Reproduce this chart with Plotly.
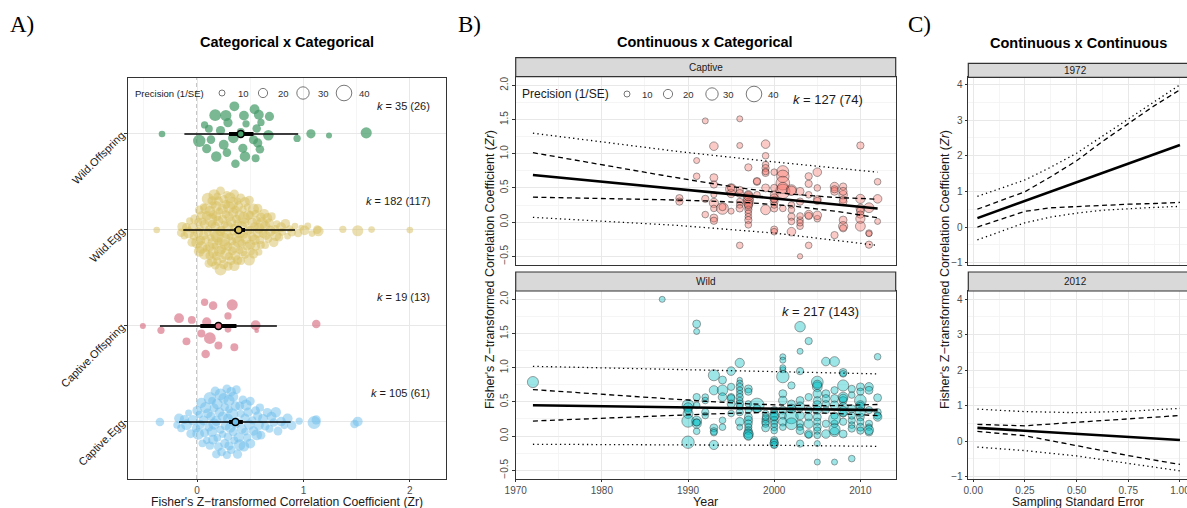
import numpy as np
import plotly.graph_objects as go

W, H = 1187, 508
FONT = "Liberation Sans, Arial, Helvetica, sans-serif"
SERIF = "Liberation Serif, Times New Roman, serif"

# ---------------- Panel A data ----------------
cat_labels = ["Captive.Egg", "Captive.Offspring", "Wild.Egg", "Wild.Offspring"]
k_labels_A = ["<i>k</i> = 105 (61)", "<i>k</i> = 19 (13)", "<i>k</i> = 182 (117)", "<i>k</i> = 35 (26)"]

wild_off_zr = [-0.33, 0.02, 0.07, 0.09, 0.11, 0.17, 0.18, 0.22, 0.25, 0.27, 0.28, 0.29, 0.34, 0.35, 0.36,
               0.41, 0.43, 0.44, 0.45, 0.46, 0.53, 0.54, 0.55, 0.56, 0.57, 0.58, 0.59, 0.60, 0.67, 0.68,
               0.94, 1.07, 1.24, 1.59, 0.13]
wild_off_prec = [12, 30, 14, 20, 16, 28, 24, 20, 22, 26, 18, 20, 24, 22, 18, 16, 20, 22, 24, 14, 20, 22,
                 16, 18, 20, 22, 18, 14, 24, 20, 14, 20, 10, 26, 18]

wild_egg_zr = [-0.38,
               -0.15, -0.14, -0.12, -0.10,
               -0.08, -0.07, -0.05, -0.04, -0.03, -0.02,
               0.00, 0.01, 0.01, 0.02, 0.02, 0.03, 0.03, 0.04, 0.04, 0.05,
               0.06, 0.06, 0.07, 0.07, 0.08, 0.08, 0.09, 0.09, 0.10, 0.10,
               0.11, 0.11, 0.12, 0.12, 0.12, 0.13, 0.13, 0.14, 0.14, 0.14, 0.15, 0.15, 0.15, 0.15,
               0.16, 0.16, 0.17, 0.17, 0.17, 0.18, 0.18, 0.18, 0.19, 0.19, 0.19, 0.20, 0.20, 0.20,
               0.21, 0.21, 0.22, 0.22, 0.22, 0.23, 0.23, 0.24, 0.24, 0.24, 0.25, 0.25, 0.25,
               0.26, 0.26, 0.27, 0.27, 0.27, 0.28, 0.28, 0.29, 0.29, 0.29, 0.30, 0.30, 0.30,
               0.31, 0.31, 0.32, 0.32, 0.33, 0.33, 0.33, 0.34, 0.34, 0.35, 0.35, 0.35, 0.35,
               0.36, 0.36, 0.37, 0.37, 0.38, 0.38, 0.38, 0.39, 0.39, 0.40, 0.40, 0.40,
               0.41, 0.41, 0.42, 0.42, 0.43, 0.43, 0.44, 0.44, 0.45, 0.45, 0.45,
               0.46, 0.47, 0.47, 0.48, 0.48, 0.49, 0.49, 0.50, 0.50, 0.50,
               0.51, 0.52, 0.52, 0.53, 0.53, 0.54, 0.54, 0.55, 0.55,
               0.56, 0.57, 0.57, 0.58, 0.58, 0.59, 0.60, 0.60,
               0.61, 0.62, 0.63, 0.64, 0.64, 0.65,
               0.66, 0.67, 0.68, 0.69, 0.70,
               0.72, 0.73, 0.74, 0.75,
               0.77, 0.79, 0.80,
               0.83, 0.85, 0.87, 0.89,
               0.92, 0.95, 0.98,
               1.01, 1.04, 1.08, 1.13, 1.14, 1.37, 1.51, 1.64, 2.00]
wild_egg_prec = [12, 18, 22, 15, 20, 26, 14, 19, 24, 17, 21, 28, 16, 23,
                 19, 25, 13, 22, 18, 30, 16, 21, 14, 27, 20, 17, 24, 15,
                 22, 16, 29, 18, 13, 21, 25, 19, 32, 15, 20, 23, 17, 26,
                 14, 24, 18, 21, 27, 16, 20, 13, 25, 19, 22, 31, 15, 18,
                 23, 17, 20, 26, 14, 22, 19, 28, 16, 21, 24, 13, 20, 34,
                 18, 21, 15, 24, 19, 27, 17, 22, 14, 20, 25, 18, 29, 16,
                 21, 13, 26, 19, 23, 16, 30, 18, 22, 15, 20, 24, 17, 27,
                 16, 22, 19, 25, 14, 21, 18, 28, 20, 15, 23, 26, 19, 17,
                 24, 18, 15, 21, 29, 17, 22, 16, 20, 25, 13, 19, 23, 18,
                 20, 27, 16, 23, 18, 14, 22, 19, 26, 21, 17, 24, 15, 20,
                 17, 23, 20, 14, 25, 19, 21, 16, 28, 18, 22, 15, 24, 19,
                 22, 15, 19, 24, 17, 21, 20, 26, 14, 18, 23, 16, 21, 12,
                 14, 18, 12, 16, 10, 22, 13, 12, 18, 24, 14, 26, 12, 12]

capt_off_zr = [-0.51, -0.34, -0.17, -0.10, -0.05, 0.04, 0.07, 0.08, 0.09, 0.12, 0.15, 0.20, 0.29, 0.29,
               0.33, 0.35, 0.55, 0.56, 1.12]
capt_off_prec = [10, 14, 22, 16, 16, 16, 14, 18, 20, 28, 18, 16, 14, 12, 26, 16, 22, 6, 18]

capt_egg_zr = [-0.35,
               -0.19, -0.17, -0.15, -0.12, -0.10, -0.08, -0.06, -0.04,
               -0.01, 0.00, 0.01, 0.02, 0.03, 0.04, 0.05, 0.06, 0.07, 0.08, 0.09, 0.10,
               0.11, 0.12, 0.12, 0.13, 0.14, 0.14, 0.15, 0.16, 0.16, 0.17, 0.18, 0.18, 0.19, 0.19, 0.20,
               0.21, 0.22, 0.22, 0.23, 0.24, 0.24, 0.25, 0.26, 0.26, 0.27, 0.28, 0.28, 0.29, 0.29, 0.30, 0.30, 0.30,
               0.31, 0.32, 0.32, 0.33, 0.34, 0.34, 0.35, 0.36, 0.36, 0.37, 0.38, 0.38, 0.39, 0.40, 0.40,
               0.41, 0.42, 0.43, 0.44, 0.45, 0.45, 0.46, 0.47, 0.48, 0.49, 0.50, 0.50,
               0.52, 0.53, 0.55, 0.56, 0.57, 0.58, 0.59, 0.60,
               0.62, 0.64, 0.66, 0.68, 0.70,
               0.72, 0.74, 0.76, 0.79,
               0.82, 0.85, 0.89,
               0.96,
               1.10, 1.12,
               1.48, 1.51]
capt_egg_prec = [18, 14, 22, 16, 20, 25, 13, 19, 24, 17, 21, 28, 15, 20, 23,
                 16, 22, 19, 26, 14, 21, 18, 30, 17, 20, 24, 15, 22, 19, 27,
                 20, 17, 23, 15, 25, 19, 21, 16, 28, 18, 22, 14, 24, 20, 17,
                 23, 19, 16, 22, 18, 26, 20, 15, 24, 21, 17, 29, 19, 22, 16,
                 21, 25, 18, 20, 14, 23, 19, 27, 16, 22, 18, 24, 20, 15, 26,
                 17, 20, 24, 19, 22, 16, 21, 18, 25, 20, 23, 17, 19, 22, 18,
                 20, 16, 22, 18, 24, 19, 21, 15, 23, 20, 14, 32, 20, 18, 22]

# model estimates (order: Captive.Egg, Captive.Offspring, Wild.Egg, Wild.Offspring)
est_A = [0.36, 0.20, 0.39, 0.41]
ci_lb_A = [0.30, 0.03, 0.35, 0.30]
ci_ub_A = [0.43, 0.37, 0.45, 0.53]
pi_lb_A = [-0.17, -0.35, -0.13, -0.12]
pi_ub_A = [0.88, 0.75, 0.92, 0.95]

# ---------------- Panel B data ----------------
capt_year = ([1989] * 2 + [1991] * 2 + [1992] * 3 + [1993] * 8 + [1994] * 2 + [1995] * 4 + [1996] * 8 +
             [1997] * 13 + [1998] * 3 + [1999] * 8 + [2000] * 10 + [2001] * 6 + [2002] * 7 + [2003] * 7 +
             [2004] * 6 + [2005] * 6 + [2007] * 4 + [2008] * 8 + [2010] * 7 + [2011] * 4 + [2012] * 3)
capt_zr = [0.35, 0.30,
           0.90, 0.67,
           1.48, 0.34, 0.11,
           1.11, 0.65, 0.55, 0.40, 0.28, 0.20, 0.06, 0.02,
           0.20, 0.22,
           0.48, 0.42, 0.16, 0.50,
           1.51, 1.12, 0.47, 0.30, 0.25, 0.20, -0.34, 0.42,
           0.80, 0.40, 0.35, 0.31, 0.28, 0.23, 0.18, 0.13, 0.08, 0.03, -0.04, 0.38, 0.26,
           0.59, 0.40, 0.60,
           1.14, 0.97, 0.84, 0.79, 0.72, 0.50, 0.18, 0.74,
           0.73, 0.50, 0.40, 0.35, 0.30, 0.20, 0.25, -0.11, -0.14, 0.33,
           0.74, 0.67, 0.57, 0.45, 0.20, 0.50,
           0.47, 0.25, 0.18, 0.08, 0.01, -0.14, 0.46,
           0.45, 0.30, 0.03, -0.50, -0.06, -0.01, 0.09,
           0.67, 0.56, 0.40, 0.11, -0.34, 0.09,
           0.73, 0.50, 0.33, 0.31, 0.05, 0.10,
           0.52, 0.45, -0.19, 0.48,
           0.52, 0.40, 0.33, 0.03, -0.06, -0.09, 0.45, 0.30,
           1.12, 0.34, 0.20, 0.16, 0.11, -0.06, 0.05,
           -0.16, -0.33, 0.21, -0.17,
           0.59, 0.34, 0.01]
capt_prec = [14, 14,
             10, 12,
             10, 14, 12,
             18, 16, 14, 10, 20, 12, 16, 14,
             28, 14,
             26, 18, 10, 14,
             10, 10, 14, 12, 12, 14, 12, 16,
             14, 18, 24, 22, 20, 16, 14, 12, 12, 14, 12, 20, 18,
             14, 12, 14,
             18, 12, 12, 14, 14, 16, 22, 12,
             12, 14, 16, 18, 16, 14, 12, 14, 12, 12,
             28, 30, 34, 36, 12, 26,
             24, 12, 12, 14, 12, 18, 20,
             16, 14, 12, 8, 12, 12, 12,
             14, 14, 12, 18, 12, 14,
             18, 12, 16, 14, 12, 18,
             18, 16, 14, 14,
             14, 18, 14, 16, 20, 14, 16, 16,
             14, 20, 18, 16, 14, 22, 20,
             12, 14, 22, 10,
             12, 18, 10]

wild_year = ([1972] + [1987] + [1990] * 6 + [1991] * 8 + [1992] * 4 + [1993] * 6 + [1994] * 5 + [1995] * 6 +
             [1996] * 13 + [1997] * 12 + [1998] * 2 + [1999] * 6 + [2000] * 12 + [2001] * 11 + [2002] * 5 +
             [2003] * 10 + [2004] * 7 + [2005] * 14 + [2006] * 7 + [2007] * 10 + [2008] * 11 + [2009] * 8 +
             [2010] * 10 + [2011] * 7 + [2012] * 5)
wild_zr = [0.79,
           2.00,
           0.45, 0.42, 0.33, 0.22, -0.09, 0.38,
           1.64, 1.53, 0.57, 0.45, 0.22, 0.18, 0.07, 0.20,
           0.57, 0.52, 0.35, 0.30,
           0.89, 0.67, 0.12, 0.07, -0.13, 0.05,
           0.82, 0.67, 0.57, 0.23, 0.13,
           0.95, 0.72, 0.57, 0.55, 0.47, 0.33,
           1.07, 0.82, 0.77, 0.72, 0.67, 0.62, 0.57, 0.52, 0.47, 0.43, 0.35, 0.21, 0.13,
           0.69, 0.65, 0.47, 0.38, 0.28, 0.23, 0.18, 0.13, 0.08, 0.04, 0.02, 0.00,
           0.45, 0.40,
           0.33, 0.25, 0.21, 0.18, 0.12, 0.28,
           0.38, 0.33, 0.28, 0.23, 0.18, 0.13, 0.08, -0.06, -0.09, -0.11, -0.13, 0.30,
           1.16, 1.11, 0.97, 0.87, 0.62, 0.52, 0.38, 0.30, 0.21, 0.13, 1.00,
           0.28, 0.18, 0.47, 0.74, 0.40,
           1.60, 1.24, 0.95, 0.52, 0.43, 0.30, 0.18, 0.13, -0.11, 0.08,
           1.39, 0.57, 0.38, 0.28, 0.03, 0.18, 0.02,
           0.79, 0.72, 0.62, 0.52, 0.45, 0.38, 0.28, 0.21, 0.13, 0.08, 0.01, -0.11, -0.38, 0.75,
           1.09, 0.62, 0.47, 0.38, 0.18, 0.03, 0.55,
           1.09, 0.67, 0.55, 0.45, 0.30, 0.18, 0.06, -0.38, 0.25, 0.10,
           0.93, 0.74, 0.57, 0.52, 0.43, 0.33, 0.21, 0.03, 0.91, 0.55, 0.36,
           0.69, 0.60, 0.40, 0.23, 0.16, 0.11, -0.33, 0.30,
           0.72, 0.65, 0.52, 0.45, 0.43, 0.28, 0.21, 0.13, 0.08, 0.35,
           0.72, 0.67, 0.38, 0.18, 0.13, 0.06, 0.09,
           1.16, 0.56, 0.35, 0.30, 0.28]
wild_prec = [26,
             10,
             28, 20, 22, 30, 30, 16,
             16, 10, 14, 12, 22, 20, 12, 14,
             12, 12, 14, 12,
             26, 20, 16, 14, 20, 12,
             16, 24, 18, 12, 12,
             18, 14, 14, 16, 16, 12,
             20, 8, 12, 14, 12, 12, 14, 12, 16, 12, 14, 18, 10,
             16, 14, 12, 12, 16, 18, 16, 14, 16, 20, 22, 18,
             36, 16,
             12, 14, 16, 14, 16, 12,
             14, 16, 18, 16, 14, 14, 12, 14, 16, 18, 14, 20,
             10, 10, 10, 30, 16, 18, 16, 14, 18, 12, 10,
             34, 28, 16, 14, 20,
             24, 10, 14, 16, 20, 18, 14, 12, 14, 16,
             14, 14, 14, 16, 18, 20, 12,
             28, 22, 18, 16, 20, 18, 16, 14, 16, 14, 12, 10, 10, 20,
             18, 16, 14, 14, 14, 18, 16,
             22, 14, 16, 18, 14, 14, 20, 10, 28, 26,
             16, 26, 22, 16, 18, 14, 14, 16, 12, 18, 22,
             14, 12, 16, 14, 12, 14, 12, 14,
             16, 14, 28, 20, 18, 16, 14, 16, 14, 22,
             18, 16, 14, 14, 12, 16, 20,
             12, 16, 14, 14, 18]

# fitted lines
fit_years = [1972, 1977, 1982, 1987, 1992, 1997, 2002, 2007, 2012]
capt_fit = [0.690, 0.629, 0.568, 0.506, 0.445, 0.384, 0.323, 0.261, 0.200]
capt_ci_ub = [1.015, 0.903, 0.793, 0.685, 0.580, 0.484, 0.408, 0.361, 0.335]
capt_ci_lb = [0.365, 0.354, 0.342, 0.328, 0.310, 0.284, 0.237, 0.161, 0.065]
wild_fit = [0.450, 0.441, 0.433, 0.424, 0.415, 0.406, 0.398, 0.389, 0.380]
wild_ci_ub = [0.680, 0.636, 0.593, 0.550, 0.509, 0.472, 0.448, 0.446, 0.462]
wild_ci_lb = [0.220, 0.246, 0.273, 0.298, 0.321, 0.340, 0.348, 0.332, 0.298]
pi_years = [1972, 1989, 2000, 2012]
capt_pi_ub = [1.30, 1.03, 0.88, 0.73]
capt_pi_lb = [0.07, -0.05, -0.16, -0.34]
wild_pi_ub = [1.02, 0.97, 0.94, 0.91]
wild_pi_lb = [-0.12, -0.125, -0.135, -0.15]

# ---------------- Panel C data ----------------
se_grid_1972 = [0.02, 0.25, 0.375, 0.5, 0.625, 0.75, 0.875, 1.0]
c72_fit = [0.25, 0.73, 0.99, 1.25, 1.52, 1.78, 2.04, 2.30]
c72_ci_ub = [0.50, 0.99, 1.41, 1.86, 2.40, 2.91, 3.40, 3.85]
c72_ci_lb = [0.00, 0.44, 0.54, 0.58, 0.61, 0.64, 0.66, 0.69]
c72_pi_ub = [0.86, 1.32, 1.68, 2.07, 2.55, 3.04, 3.51, 3.99]
c72_pi_lb = [-0.36, 0.12, 0.28, 0.39, 0.47, 0.52, 0.55, 0.58]
se_grid_2012 = [0.02, 0.25, 0.5, 0.75, 1.0]
c12_fit = [0.37, 0.29, 0.20, 0.11, 0.03]
c12_ci_ub = [0.47, 0.43, 0.53, 0.63, 0.72]
c12_ci_lb = [0.27, 0.15, -0.13, -0.41, -0.66]
c12_pi_ub = [0.90, 0.83, 0.80, 0.84, 0.92]
c12_pi_lb = [-0.17, -0.27, -0.42, -0.62, -0.84]

legend_prec = [10, 20, 30, 40]


# ---------------- helpers ----------------
def px(x):
    return x / W


def py(y):
    return 1 - y / H


def size_of(prec):
    return 2.8 + 0.32 * np.asarray(prec, float)


def vdc(n, base=2):
    out = []
    for i in range(1, n + 1):
        v, denom, k = 0.0, 1.0, i
        while k:
            k, rem = divmod(k, base)
            denom *= base
            v += rem / denom
        out.append(v)
    return np.array(out)


def quasirandom(vals, width, adjust=1.0):
    v = np.asarray(vals, float)
    n = len(v)
    sd = v.std(ddof=1)
    q75, q25 = np.percentile(v, [75, 25])
    bw = 0.9 * min(sd, (q75 - q25) / 1.34) * n ** -0.2 * adjust
    dens = np.exp(-0.5 * ((v[:, None] - v[None, :]) / bw) ** 2).sum(1)
    dens = dens / dens.max()
    rank = np.argsort(np.argsort(v, kind="stable"), kind="stable")
    off = vdc(n)[rank]
    return (off - 0.5) * 2 * width * dens


fig = go.Figure()

# ---------------- Panel A traces ----------------
groups = [
    (capt_egg_zr, capt_egg_prec, "rgb(110,190,235)", 0.5, 0.38, 0.8),
    (capt_off_zr, capt_off_prec, "rgb(215,110,130)", 0.65, 0.34, 1.2),
    (wild_egg_zr, wild_egg_prec, "rgb(215,192,95)", 0.5, 0.42, 0.8),
    (wild_off_zr, wild_off_prec, "rgb(70,155,105)", 0.72, 0.34, 1.2),
]
for i, (zr, prec, col, op, wid, adj) in enumerate(groups):
    pos = i + 1
    yy = pos + quasirandom(zr, wid, adj)
    fig.add_trace(go.Scatter(x=zr, y=yy, mode="markers", xaxis="x", yaxis="y",
                             marker=dict(size=size_of(prec), color=col, opacity=op, line=dict(width=0)),
                             hoverinfo="skip"))
for i, (zr, prec, col, op, wid, adj) in enumerate(groups):
    pos = i + 1
    fig.add_trace(go.Scatter(x=[pi_lb_A[i], pi_ub_A[i]], y=[pos, pos], mode="lines", xaxis="x", yaxis="y",
                             line=dict(color="black", width=1.4), hoverinfo="skip"))
    fig.add_trace(go.Scatter(x=[ci_lb_A[i], ci_ub_A[i]], y=[pos, pos], mode="lines", xaxis="x", yaxis="y",
                             line=dict(color="black", width=4), hoverinfo="skip"))
    fig.add_trace(go.Scatter(x=[est_A[i]], y=[pos], mode="markers", xaxis="x", yaxis="y",
                             marker=dict(size=7, color=col, line=dict(color="black", width=1.6)),
                             hoverinfo="skip"))

# ---------------- Panel B traces ----------------
def add_points(xs, ys, prec, fill, xa, ya):
    fig.add_trace(go.Scatter(x=xs, y=ys, mode="markers", xaxis=xa, yaxis=ya,
                             marker=dict(size=size_of(prec), color=fill,
                                         line=dict(color="rgba(30,30,30,0.75)", width=0.8)),
                             hoverinfo="skip"))


def add_line(xs, ys, xa, ya, kind):
    if kind == "solid":
        ln = dict(color="black", width=2.6)
    elif kind == "dash":
        ln = dict(color="black", width=1.3, dash="5px,3.5px")
    else:
        ln = dict(color="black", width=1.3, dash="1.3px,3.2px")
    fig.add_trace(go.Scatter(x=xs, y=ys, mode="lines", xaxis=xa, yaxis=ya, line=ln, hoverinfo="skip"))


add_points(capt_year, capt_zr, capt_prec, "rgba(248,118,109,0.55)", "x2", "y2")
add_line(pi_years, capt_pi_ub, "x2", "y2", "dot")
add_line(pi_years, capt_pi_lb, "x2", "y2", "dot")
add_line(fit_years, capt_ci_ub, "x2", "y2", "dash")
add_line(fit_years, capt_ci_lb, "x2", "y2", "dash")
add_line(fit_years, capt_fit, "x2", "y2", "solid")

add_points(wild_year, wild_zr, wild_prec, "rgba(0,191,196,0.55)", "x3", "y3")
add_line(pi_years, wild_pi_ub, "x3", "y3", "dot")
add_line(pi_years, wild_pi_lb, "x3", "y3", "dot")
add_line(fit_years, wild_ci_ub, "x3", "y3", "dash")
add_line(fit_years, wild_ci_lb, "x3", "y3", "dash")
add_line(fit_years, wild_fit, "x3", "y3", "solid")

# ---------------- Panel C traces ----------------
add_line(se_grid_1972, c72_pi_ub, "x4", "y4", "dot")
add_line(se_grid_1972, c72_pi_lb, "x4", "y4", "dot")
add_line(se_grid_1972, c72_ci_ub, "x4", "y4", "dash")
add_line(se_grid_1972, c72_ci_lb, "x4", "y4", "dash")
add_line(se_grid_1972, c72_fit, "x4", "y4", "solid")
add_line(se_grid_2012, c12_pi_ub, "x5", "y5", "dot")
add_line(se_grid_2012, c12_pi_lb, "x5", "y5", "dot")
add_line(se_grid_2012, c12_ci_ub, "x5", "y5", "dash")
add_line(se_grid_2012, c12_ci_lb, "x5", "y5", "dash")
add_line(se_grid_2012, c12_fit, "x5", "y5", "solid")

# ---------------- axes ----------------
GRID = "#e8e8e8"
MINOR = "#f2f2f2"
TICKF = dict(family=FONT, size=10, color="#4d4d4d")


def ax(domain, rng, dtick, minor_dtick, tick0=0, labels=True, anchor=None, **kw):
    d = dict(domain=domain, range=rng, dtick=dtick, tick0=tick0, showgrid=True, gridcolor=GRID, gridwidth=1,
             zeroline=False, showline=True, mirror=True, linecolor="#333333", linewidth=1.2,
             ticks="outside" if labels else "", ticklen=2.5, tickcolor="#333333", tickwidth=1,
             showticklabels=labels, tickfont=TICKF, automargin=False,
             minor=dict(dtick=minor_dtick, tick0=tick0, showgrid=True, gridcolor=MINOR, gridwidth=0.8),
             anchor=anchor, fixedrange=True)
    d.update(kw)
    return d


xA = [px(128), px(446)]
yA = [py(479), py(78)]
xB = [px(515.7), px(895.7)]
yTop = [py(265), py(76.7)]
yBot = [py(479), py(291)]
xC = [px(968.3), 1.0]

layout_axes = dict(
    xaxis=ax(xA, [-0.65, 2.34], 1, 0.5, anchor="y", ticklen=2),
    yaxis=dict(domain=yA, range=[0.406, 4.583], tickvals=[1, 2, 3, 4], ticktext=cat_labels, tickangle=-45,
               showgrid=True, gridcolor=GRID, gridwidth=1, zeroline=False, showline=True, mirror=True,
               linecolor="#333333", linewidth=1.2, ticks="outside", ticklen=3, tickcolor="#333333",
               tickfont=dict(family=FONT, size=11, color="#1a1a1a"), anchor="x", fixedrange=True,
               automargin=False),
    xaxis2=ax(xB, [1970, 2014.1], 10, 5, tick0=1970, labels=False, anchor="y2"),
    yaxis2=ax(yTop, [-0.627, 2.126], 0.5, 0.25, anchor="x2", tickangle=-90, tickformat=".1f"),
    xaxis3=ax(xB, [1970, 2014.1], 10, 5, tick0=1970, anchor="y3", ticklen=2),
    yaxis3=ax(yBot, [-0.628, 2.122], 0.5, 0.25, anchor="x3", tickangle=-90, tickformat=".1f"),
    xaxis4=ax(xC, [-0.024, 1.034], 0.25, 0.125, labels=False, anchor="y4"),
    yaxis4=ax(yTop, [-1.065, 4.217], 1, 0.5, anchor="x4"),
    xaxis5=ax(xC, [-0.024, 1.034], 0.25, 0.125, anchor="y5", tickformat=".2f", ticklen=2,
              ticklabeloverflow="allow"),
    yaxis5=ax(yBot, [-1.07, 4.23], 1, 0.5, anchor="x5"),
)

shapes = []
annotations = []


def text(x, y, s, size, xanchor="center", family=FONT, color="#1a1a1a", angle=0, yanchor="middle"):
    annotations.append(dict(x=px(x), y=py(y), xref="paper", yref="paper", text=s, showarrow=False,
                            xanchor=xanchor, yanchor=yanchor, textangle=angle, borderpad=0,
                            font=dict(family=family, size=size, color=color)))


# zero reference line in panel A
shapes.append(dict(type="line", xref="x", yref="y domain", x0=0, x1=0, y0=0, y1=1, layer="below",
                   line=dict(color="#7a7a7a", width=1.1, dash="4px,3px")))

# facet strips
for (x0, x1, y0, y1, label) in [(515.7, 895.7, 57.7, 76.7, "Captive"), (515.7, 895.7, 272, 291, "Wild"),
                                (968.3, 1190, 63.3, 77.3, "1972"), (968.3, 1190, 272, 291, "2012")]:
    shapes.append(dict(type="rect", xref="paper", yref="paper", x0=px(x0), x1=px(x1), y0=py(y1), y1=py(y0),
                       fillcolor="#d9d9d9", line=dict(color="#333333", width=1.2), layer="above"))
    cx = (x0 + 1182) / 2 if x1 > W else (x0 + x1) / 2
    text(cx, (y0 + y1) / 2, label, 10)


# size legends (keys)
def size_legend(x_title, y, title_size, centers, label_x):
    text(x_title, y, "Precision (1/SE)", title_size, xanchor="left")
    for p, cx, lx in zip(legend_prec, centers, label_x):
        d = float(size_of(p))
        shapes.append(dict(type="circle", xref="paper", yref="paper", x0=px(cx - d / 2), x1=px(cx + d / 2),
                           y0=py(y + d / 2), y1=py(y - d / 2), line=dict(color="#555555", width=0.8),
                           fillcolor="rgba(0,0,0,0)", layer="above"))
        text(lx, y, str(p), 9.5, color="#333333")


size_legend(134, 93, 9.5, [222, 263, 303, 344], [243, 283, 323, 364])
size_legend(521, 94, 12, [627, 668, 712, 754], [647, 688, 728, 773])

# k labels
for lab, yk in zip(k_labels_A, [393, 297, 201, 106]):
    text(431, yk, lab, 11, xanchor="right")
text(828, 100, "<i>k</i> = 127 (74)", 13)
text(820, 311, "<i>k</i> = 217 (143)", 13)

# titles & panel letters
text(287, 42, "<b>Categorical x Categorical</b>", 14.5, color="black")
text(705, 42, "<b>Continuous x Categorical</b>", 14.5, color="black")
text(1078, 43, "<b>Continuous x Continuous</b>", 14.5, color="black")
text(9, 24, "A)", 23, xanchor="left", family=SERIF, color="black")
text(457, 24, "B)", 23, xanchor="left", family=SERIF, color="black")
text(907, 24, "C)", 23, xanchor="left", family=SERIF, color="black")

# axis titles
text(287, 502, "Fisher's Z\u2212transformed Correlation Coefficient (Zr)", 12.2)
text(705, 502, "Year", 12.5)
text(1078, 502, "Sampling Standard Error", 12)
ytitle = "Fisher's Z\u2212transformed Correlation Coefficient (<i>Zr</i>)"
text(490, 270, ytitle, 12.5, angle=-90)
text(945, 270, ytitle, 12.5, angle=-90)

fig.update_layout(
    width=W, height=H, margin=dict(l=0, r=0, t=0, b=0, autoexpand=False),
    paper_bgcolor="white", plot_bgcolor="rgba(0,0,0,0)",
    showlegend=False, shapes=shapes, annotations=annotations,
    font=dict(family=FONT),
    **layout_axes,
)

fig.write_html("out.html", config={"displayModeBar": False, "staticPlot": True})

# remove the browser's default page margin so the figure sits at the window's top-left corner
with open("out.html", "r", encoding="utf-8") as fh:
    html = fh.read()
html = html.replace("<head>", "<head><style>html,body{margin:0;padding:0;overflow:hidden;}</style>", 1)
with open("out.html", "w", encoding="utf-8") as fh:
    fh.write(html)
